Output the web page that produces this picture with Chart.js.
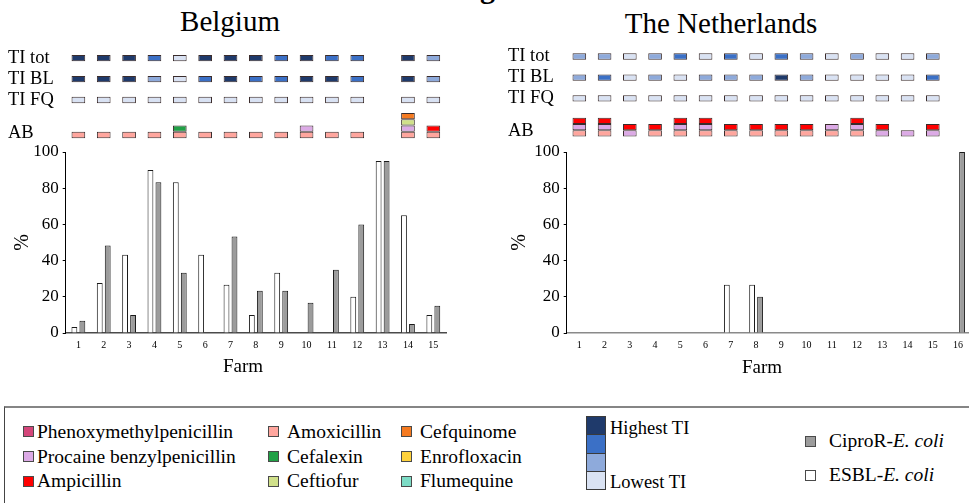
<!DOCTYPE html>
<html>
<head>
<meta charset="utf-8">
<script src="https://cdn.jsdelivr.net/npm/chart.js@4.4.1/dist/chart.umd.min.js"></script>
<style>
  html, body { margin: 0; padding: 0; background: #fff; overflow: hidden; }
  body { width: 969px; height: 503px; position: relative; font-family: "Liberation Serif", "Times New Roman", serif; color: #000; }
  .panel { position: absolute; top: 0; height: 382px; }
  #be-box { left: 0; width: 480px; }
  #nl-box { left: 480px; width: 500px; }
  .country { position: absolute; font-size: 29px; line-height: 1; white-space: nowrap; transform: translateX(-50%); }
  .axis-title { position: absolute; font-size: 19px; line-height: 1; white-space: nowrap; transform: translateX(-50%); }
  .heading { position: absolute; left: 480px; top: -27px; font-size: 30px; line-height: 1; font-weight: bold; }
  .legend { position: absolute; left: 4px; top: 406px; width: 1000px; height: 200px;
            border-top: 2px solid #858585; border-left: 1px solid #444; }
  .item { position: absolute; font-size: 19.5px; line-height: 22px; white-space: nowrap; }
  .mark { position: absolute; width: 9px; height: 9px; border: 1px solid #4a4a4a; }
  .scale { position: absolute; left: 581px; top: 9px; width: 20px; }
  .scale div { height: 17.3px; border: 1px solid #3a3a3a; margin-top: -1px; }
</style>
</head>
<body>
<div class="heading">g</div>
<div class="country" style="left:230px; top:7px;">Belgium</div>
<div class="country" style="left:721px; top:9px;">The Netherlands</div>

<div class="panel" id="be-box"><canvas id="be"></canvas></div>
<div class="panel" id="nl-box"><canvas id="nl"></canvas></div>

<div class="axis-title" style="left:243px; top:356px;">Farm</div>
<div class="axis-title" style="left:762px; top:357px;">Farm</div>

<div class="legend" id="legend"></div>

<script>
// ---- data -------------------------------------------------------------
const farmsBE = ['1', '2', '3', '4', '5', '6', '7', '8', '9', '10', '11', '12', '13', '14', '15'];
const farmsNL = ['1', '2', '3', '4', '5', '6', '7', '8', '9', '10', '11', '12', '13', '14', '15', '16'];

// % of samples positive
const esblBE  = [3.3, 27.6, 43.3, 90, 83.3, 43.3, 26.7, 10, 33.3, 0, 0, 20, 95, 65, 10];
const ciproBE = [6.7, 48.3, 10, 83.3, 33.3, 0, 53.3, 23.3, 23.3, 16.7, 35, 60, 95, 5, 15];
const esblNL  = [0, 0, 0, 0, 0, 0, 26.7, 26.7, 0, 0, 0, 0, 0, 0, 0, 0];
const ciproNL = [0, 0, 0, 0, 0, 0, 0, 20, 0, 0, 0, 0, 0, 0, 0, 100];

// treatment incidence class per farm: 4 = highest ... 1 = lowest, null = no data
const tiTotBE = [4, 4, 4, 3, 1, 4, 4, 4, 3, 4, 3, 3, null, 4, 2];
const tiBlBE  = [4, 4, 4, 2, 1, 3, 4, 3, 3, 4, 4, 3, null, 4, 2];
const tiFqBE  = [1, 1, 1, 1, 1, 1, 1, 1, 1, 1, 1, 1, null, 1, 1];
const tiTotNL = [2, 2, 1, 2, 3, 1, 3, 1, 3, 2, 1, 2, 1, 1, 2, null];
const tiBlNL  = [2, 3, 1, 2, 1, 2, 2, 2, 4, 2, 1, 1, 1, 1, 3, null];
const tiFqNL  = [1, 1, 1, 1, 1, 1, 1, 1, 1, 1, 1, 1, 1, 1, 1, null];

// antibiotics used per farm (1 = used), stacked bottom to top in this order
const amoxBE       = [1, 1, 1, 1, 1, 1, 1, 1, 1, 1, 1, 1, 0, 1, 1];
const procaineBE   = [0, 0, 0, 0, 0, 0, 0, 0, 0, 1, 0, 0, 0, 1, 0];
const cefalexinBE  = [0, 0, 0, 0, 1, 0, 0, 0, 0, 0, 0, 0, 0, 0, 0];
const ceftiofurBE  = [0, 0, 0, 0, 0, 0, 0, 0, 0, 0, 0, 0, 0, 1, 0];
const cefquinomeBE = [0, 0, 0, 0, 0, 0, 0, 0, 0, 0, 0, 0, 0, 1, 0];
const ampicillinBE = [0, 0, 0, 0, 0, 0, 0, 0, 0, 0, 0, 0, 0, 0, 1];
const amoxNL       = [1, 1, 0, 1, 1, 1, 1, 1, 1, 1, 1, 1, 0, 0, 0, 0];
const procaineNL   = [1, 1, 1, 0, 1, 1, 0, 0, 0, 0, 1, 1, 1, 1, 1, 0];
const ampicillinNL = [1, 1, 1, 1, 1, 1, 1, 1, 1, 1, 0, 1, 1, 0, 1, 0];

const tiColors = { 4: '#1f3a6b', 3: '#3b70c6', 2: '#8eaadb', 1: '#d9e2f3' };
const abColors = {
  'Phenoxymethylpenicillin': '#d4467a',
  'Procaine benzylpenicillin': '#dcaae6',
  'Ampicillin': '#ff0000',
  'Amoxicillin': '#ffa69e',
  'Cefalexin': '#21a046',
  'Ceftiofur': '#d0e08a',
  'Cefquinome': '#f57a20',
  'Enrofloxacin': '#ffd23c',
  'Flumequine': '#7ddcc6'
};

// ---- layout of the cell rows above the bars (units = one cell height) ----
const ROWS_MAX = 16.5;
const ROW_BASES = [14.4, 11.05, 7.75];
const AB_BASE = 2.2;
const ROW_LABELS = ['TI tot', 'TI BL', 'TI FQ', 'AB'];
const SERIF = '"Liberation Serif", "Times New Roman", serif';

const cellStyle = {
  type: 'bar', yAxisID: 'rows', grouped: false,
  categoryPercentage: 1, barPercentage: 0.54,
  borderWidth: 1, borderColor: '#3a2c2c', borderSkipped: false, inflateAmount: 0
};

function tiDataset(levels, base) {
  return Object.assign({}, cellStyle, {
    data: levels.map(l => l == null ? null : [base, base + 1]),
    backgroundColor: levels.map(l => tiColors[l] || 'transparent')
  });
}

function abDatasets(list, base) {
  const filled = new Array(list[0].used.length).fill(0);
  return list.map(({ name, used }) => {
    const data = used.map((u, i) => {
      if (!u) return null;
      const lo = base + filled[i];
      filled[i] += 1;
      return [lo, lo + 1];
    });
    return Object.assign({}, cellStyle, { label: name, data, backgroundColor: abColors[name] });
  });
}

function makeChart(id, cfg) {
  const lift = cfg.lift;
  const bases = ROW_BASES.map(b => b + lift);
  const abBase = AB_BASE + lift;
  const tickValues = bases.map(b => b + 0.5).concat([abBase + 0.85]);

  const datasets = [
    { label: 'ESBL-E. coli', data: cfg.esbl, backgroundColor: '#ffffff' },
    { label: 'CiproR-E. coli', data: cfg.cipro, backgroundColor: '#9c9c9c' }
  ].map(d => Object.assign(d, {
    borderColor: '#1a1a1a', borderWidth: 1, inflateAmount: 0,
    categoryPercentage: 0.63, barPercentage: 0.73
  }));

  cfg.ti.forEach((levels, r) => datasets.push(tiDataset(levels, bases[r])));
  abDatasets(cfg.ab, abBase).forEach(d => datasets.push(d));

  return new Chart(document.getElementById(id), {
    type: 'bar',
    data: { labels: cfg.farms, datasets },
    options: {
      responsive: true,
      maintainAspectRatio: false,
      devicePixelRatio: 1,
      animation: false,
      layout: { padding: cfg.padding },
      plugins: { legend: { display: false }, tooltip: { enabled: false } },
      scales: {
        x: {
          offset: true,
          grid: { display: false, drawTicks: false },
          border: { color: cfg.xAxisColor, width: 1.4 },
          ticks: { font: { family: SERIF, size: 10 }, color: '#000', padding: 6, autoSkip: false, maxRotation: 0 },
          afterFit: s => { s.height = 49; }
        },
        y: {
          position: 'left', stack: 'v', stackWeight: 181, weight: 0,
          min: 0, max: 100,
          grid: { drawOnChartArea: false, drawTicks: true, tickLength: 3, color: '#000' },
          border: { color: '#000', width: 1 },
          ticks: { stepSize: 20, autoSkip: false, font: { family: SERIF, size: 17 }, color: '#000', padding: 4 },
          title: { display: true, text: '%', color: '#000', font: { family: SERIF, size: 20 }, padding: { top: cfg.titlePad, bottom: 0 } },
          afterFit: s => { s.width = cfg.yWidth; }
        },
        rows: {
          position: 'left', stack: 'v', stackWeight: 104, weight: 1,
          min: 0, max: ROWS_MAX,
          grid: { display: false, drawTicks: false },
          border: { display: false },
          ticks: {
            crossAlign: 'far', autoSkip: false, color: '#000',
            font: { family: SERIF, size: 18.5 },
            callback: (v, i) => ROW_LABELS[i]
          },
          afterBuildTicks: s => { s.ticks = tickValues.map(v => ({ value: v })); },
          afterFit: s => { s.width = cfg.yWidth; }
        }
      }
    }
  });
}

makeChart('be', {
  farms: farmsBE, esbl: esblBE, cipro: ciproBE,
  ti: [tiTotBE, tiBlBE, tiFqBE],
  ab: [
    { name: 'Amoxicillin', used: amoxBE },
    { name: 'Procaine benzylpenicillin', used: procaineBE },
    { name: 'Cefalexin', used: cefalexinBE },
    { name: 'Ceftiofur', used: ceftiofurBE },
    { name: 'Cefquinome', used: cefquinomeBE },
    { name: 'Ampicillin', used: ampicillinBE }
  ],
  lift: 0, padding: { left: 8, right: 34, top: 48, bottom: 0 },
  yWidth: 57.7, titlePad: 3, xAxisColor: '#4a4a4a'
});

makeChart('nl', {
  farms: farmsNL, esbl: esblNL, cipro: ciproNL,
  ti: [tiTotNL, tiBlNL, tiFqNL],
  ab: [
    { name: 'Amoxicillin', used: amoxNL },
    { name: 'Procaine benzylpenicillin', used: procaineNL },
    { name: 'Ampicillin', used: ampicillinNL }
  ],
  lift: 0.25, padding: { left: 28, right: 9.3, top: 48, bottom: 0 },
  yWidth: 58.7, titlePad: 0, xAxisColor: '#8a8a8a'
});

// ---- legend -----------------------------------------------------------
const legendCols = [
  { markX: 18, textX: 32, names: ['Phenoxymethylpenicillin', 'Procaine benzylpenicillin', 'Ampicillin'] },
  { markX: 263, textX: 282, names: ['Amoxicillin', 'Cefalexin', 'Ceftiofur'] },
  { markX: 396, textX: 415, names: ['Cefquinome', 'Enrofloxacin', 'Flumequine'] }
];
const legendRowY = [23.5, 48.5, 73];
const legend = document.getElementById('legend');

function addItem(markX, textX, cy, color, html) {
  const m = document.createElement('div');
  m.className = 'mark';
  m.style.left = markX + 'px';
  m.style.top = (cy - 5.5) + 'px';
  m.style.background = color;
  legend.appendChild(m);
  const t = document.createElement('div');
  t.className = 'item';
  t.style.left = textX + 'px';
  t.style.top = (cy - 11) + 'px';
  t.innerHTML = html;
  legend.appendChild(t);
}

legendCols.forEach(col => col.names.forEach((name, r) => addItem(col.markX, col.textX, legendRowY[r], abColors[name], name)));

const scale = document.createElement('div');
scale.className = 'scale';
[4, 3, 2, 1].forEach(l => {
  const b = document.createElement('div');
  b.style.background = tiColors[l];
  scale.appendChild(b);
});
legend.appendChild(scale);
[['Highest TI', 20], ['Lowest TI', 74]].forEach(([txt, cy]) => {
  const t = document.createElement('div');
  t.className = 'item';
  t.style.fontSize = '18.5px';
  t.style.left = '605px';
  t.style.top = (cy - 11) + 'px';
  t.textContent = txt;
  legend.appendChild(t);
});

addItem(800, 824, 33, '#9c9c9c', 'CiproR-<i>E. coli</i>');
addItem(800, 824, 67, '#ffffff', 'ESBL-<i>E. coli</i>');
</script>
</body>
</html>
